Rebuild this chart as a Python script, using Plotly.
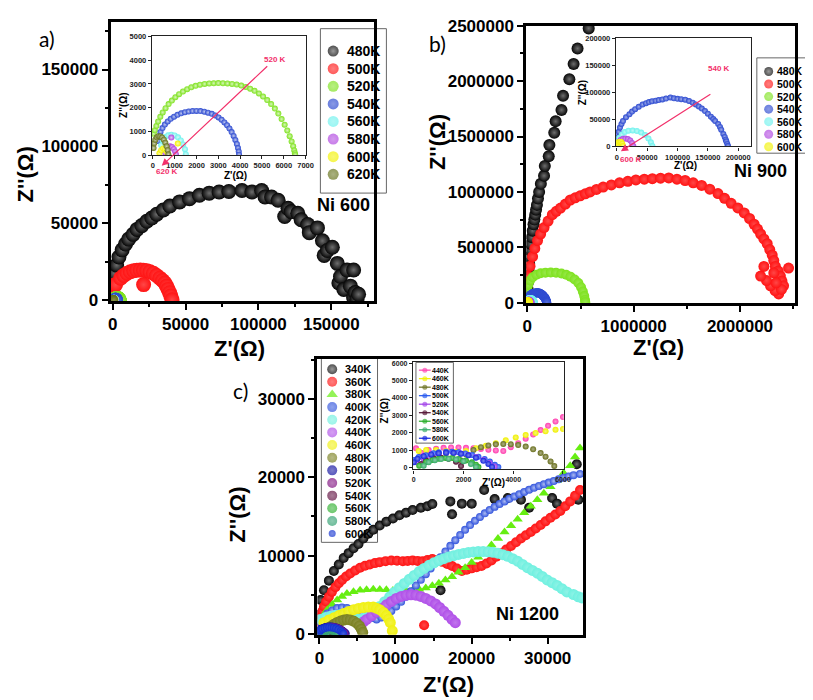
import plotly.graph_objects as go

W, H = 813, 700
FONT = "Liberation Sans"

# ================= DATA =================
# ---- panel a) Ni 600 ----
a_480 = [(300, 10000), (900, 17500), (2700, 22800), (4300, 28100), (6500, 32700), (8800, 36500),
         (11000, 39700), (14000, 42800), (16700, 46000), (20000, 48500), (23400, 51300), (26800, 53400),
         (30200, 55900), (34700, 58600), (39200, 61200), (45900, 63900), (52700, 66000), (59500, 68200),
         (66200, 69600), (73000, 70300), (79700, 70700), (88700, 71300), (95500, 70300), (102200, 71300),
         (104500, 67100), (109000, 67100), (113500, 65000), (118000, 54400), (120300, 59700), (122500, 57600),
         (127000, 56500), (129300, 52300), (133800, 49200), (134900, 43900), (140500, 47000), (143900, 38600),
         (145100, 29100), (147300, 32300), (150700, 34400), (154100, 23900), (155200, 11200), (156300, 15400),
         (158600, 7000), (160800, 19600), (163100, 9100), (165300, 19600), (165300, 1700), (166400, 4900),
         (167600, 600), (168700, 3800)]
a_500 = [(0, 9500), (2000, 10100), (5400, 14300), (7600, 16000), (9900, 17500), (12100, 18500), (14400, 19200),
         (16600, 19500), (18900, 19600), (21100, 19500), (23400, 19200), (25600, 18500), (27900, 17500),
         (30100, 16000), (32400, 14300), (34200, 12800), (35800, 11200), (37000, 9100), (38000, 7000),
         (39100, 4800), (39900, 2700), (40700, 200), (21200, 10100)]
a_520 = [(40, 900), (90, 1050), (160, 1230), (240, 1420), (340, 1620), (450, 1800), (580, 1980), (720, 2150),
         (870, 2300), (1030, 2440), (1200, 2570), (1380, 2680), (1570, 2780), (1760, 2860), (1960, 2920),
         (2160, 2970), (2370, 3000), (2580, 3020), (2790, 3030), (3000, 3035), (3210, 3030), (3420, 3020),
         (3630, 3000), (3840, 2975), (4050, 2930), (4260, 2870), (4460, 2800), (4660, 2710), (4860, 2600),
         (5050, 2470), (5240, 2320), (5420, 2150), (5590, 1960), (5750, 1750), (5900, 1520), (6040, 1280),
         (6160, 1040), (6270, 800), (6360, 580), (6430, 380), (6480, 200), (6510, 80), (6525, 10)]
a_540 = [(230, 600), (280, 800), (350, 980), (440, 1140), (550, 1290), (680, 1420), (820, 1530), (970, 1620),
         (1130, 1700), (1300, 1760), (1470, 1810), (1640, 1840), (1820, 1860), (2000, 1865), (2180, 1855),
         (2360, 1830), (2530, 1790), (2700, 1740), (2860, 1670), (3010, 1590), (3150, 1490), (3280, 1380),
         (3400, 1260), (3510, 1120), (3610, 970), (3700, 810), (3780, 640), (3850, 470), (3900, 300),
         (3935, 150), (3950, 20)]
a_560 = [(380, 420), (450, 620), (560, 760), (700, 840), (850, 860), (1000, 830), (1150, 750), (1280, 620),
         (1390, 450), (1470, 250), (1510, 40)]
a_580 = [(560, 100), (620, 230), (700, 330), (790, 370), (880, 340), (960, 260), (1020, 150), (1060, 30), (845, 740)]
a_600 = [(300, 80), (380, 210), (470, 280), (560, 250), (640, 150), (700, 30), (1140, 490)]
a_620 = [(30, 300), (60, 500), (110, 650), (180, 750), (260, 800), (340, 790), (420, 740), (500, 650),
         (570, 520), (630, 370), (680, 210), (710, 30)]

# ---- panel b) Ni 900 ----
b_480 = [(0, 30000), (1000, 80000), (2000, 123000), (4000, 180000), (6000, 240000), (10000, 300000),
         (16000, 357000), (22000, 415000), (28000, 474000), (35000, 530000), (43000, 590000), (50000, 650000),
         (58000, 708000), (66000, 750000), (74000, 795000), (82000, 840000), (90000, 883000), (100000, 940000),
         (111000, 1000000), (127000, 1073000), (157000, 1146000), (164000, 1234000), (201000, 1322000),
         (207000, 1424000), (253000, 1535000), (266000, 1637000), (321000, 1740000), (336000, 1868000),
         (395000, 2018000), (435000, 2155000), (472000, 2295000), (577000, 2476000)]
b_500 = [(3000, 180000), (9000, 240000), (25000, 330000), (49000, 415000), (70000, 490000), (96000, 561000),
         (125000, 620000), (157000, 678000), (195000, 737000), (235000, 795000), (272000, 825000), (312000, 854000),
         (358000, 890000), (404000, 927000), (450000, 947000), (497000, 965000), (545000, 983000), (590000, 1000000),
         (650000, 1022000), (713000, 1044000), (790000, 1063000), (867000, 1082000), (945000, 1096000),
         (1021000, 1108000), (1100000, 1115000), (1176000, 1120000), (1253000, 1124000), (1330000, 1126000),
         (1407000, 1115000), (1484000, 1103000), (1560000, 1082000), (1639000, 1059000), (1716000, 1025000),
         (1793000, 985000), (1855000, 942000), (1917000, 897000), (1980000, 855000), (2040000, 810000),
         (2090000, 760000), (2133000, 708000), (2165000, 665000), (2194000, 620000), (2225000, 576000),
         (2256000, 532000), (2280000, 480000), (2303000, 430000), (2318000, 380000), (2333000, 327000),
         (2360000, 285000), (2380000, 240000), (2395000, 195000), (2410000, 152000), (2364000, 79000),
         (2330000, 110000), (2287000, 152000), (2250000, 200000), (2194000, 240000), (2225000, 327000),
         (2318000, 269000), (2457000, 313000), (2390000, 120000), (2340000, 180000)]
b_520 = [(0, 120000), (8000, 160000), (25000, 200000), (50000, 230000), (85000, 252000), (125000, 265000),
         (170000, 271000), (220000, 272000), (270000, 270000), (320000, 264000), (365000, 252000), (405000, 235000),
         (445000, 210000), (480000, 178000), (505000, 140000), (522000, 100000), (535000, 60000), (542000, 25000),
         (545000, 5000)]
b_540 = [(0, 12000), (1600, 17500), (3000, 27000), (5000, 35000), (7500, 41500), (10000, 47000), (15000, 54000),
         (20600, 59500), (25000, 64500), (30000, 69000), (36000, 73500), (42300, 77500), (48000, 80000),
         (53000, 82000), (58000, 83500), (63900, 84700), (69000, 85800), (75000, 87000), (81000, 88500),
         (88300, 90600), (94000, 89000), (100000, 88000), (106000, 87500), (112700, 86500), (119000, 84000),
         (125000, 81000), (130000, 77800), (135000, 74000), (140000, 70000), (145200, 65400), (150000, 60500),
         (155000, 55000), (159000, 50500), (162000, 47000), (167000, 41400), (170000, 36000), (172000, 31000),
         (175500, 23000), (177800, 17500), (179500, 12500), (180500, 9000), (182000, 4500), (183200, 500)]
b_560 = [(1600, 9000), (4000, 16000), (8000, 22000), (13000, 26500), (19000, 29000), (26000, 29400),
         (33000, 28500), (40000, 25500), (46500, 21000), (52000, 14500), (56000, 7500), (58500, 500)]
b_580 = [(1000, 4000), (3000, 8500), (6000, 12000), (10000, 14000), (14000, 14400), (18000, 13500),
         (22000, 11000), (25000, 6500), (27000, 500)]
b_600 = [(500, 2000), (1500, 5500), (3000, 8000), (5000, 8700), (7000, 8000), (8800, 5000), (10000, 500)]

# ---- panel c) Ni 1200 : main ----
c_340 = [(50, 2500), (170, 4340), (600, 5580), (1250, 6810), (1900, 8050), (2550, 8880), (3190, 9700),
         (3840, 10320), (4490, 10940), (5140, 11480), (5780, 12180), (6430, 12800), (7080, 13300), (7930, 13840),
         (8800, 14340), (9670, 14740), (10520, 15150), (11390, 15490), (12250, 15820), (13330, 16110),
         (14200, 16320), (14840, 16600), (17210, 16930), (17430, 15280), (18720, 16640), (20020, 16640),
         (21650, 18380), (23030, 17220), (24760, 17350), (26490, 17140), (27560, 16110), (30580, 17350),
         (31230, 16640), (34030, 17140), (15920, 5580), (33820, 21680)]
c_360 = [(100, 1500), (170, 2270), (380, 2900), (600, 3510), (900, 4150), (1250, 4750), (1650, 5380),
         (2110, 5980), (2550, 6480), (2980, 6900), (3500, 7330), (4050, 7720), (4700, 8100), (5350, 8460),
         (6000, 8700), (6640, 8880), (7300, 9050), (7930, 9170), (8700, 9300), (9450, 9380), (10200, 9350),
         (10960, 9290), (11600, 9330), (12250, 9380), (12900, 9330), (13550, 9290), (14200, 9450), (14840, 9580),
         (15500, 9400), (16140, 9210), (16800, 8950), (17430, 8670), (18070, 8350), (18720, 8050), (19370, 8200),
         (20020, 8380), (20660, 8520), (21310, 8670), (21960, 9000), (22610, 9380), (23250, 9850), (23900, 10320),
         (24550, 10780), (25190, 11240), (25840, 11700), (26490, 12180), (27130, 12600), (27780, 13010),
         (28430, 13470), (29080, 13920), (29720, 14380), (30370, 14830), (31010, 15260), (31660, 15700),
         (32310, 16300), (32960, 16930), (33600, 17650), (34250, 18380), (13760, 1120)]
c_380 = [(170, 1860), (600, 2500), (1040, 3100), (1680, 3750), (2330, 4340), (2970, 4780), (3620, 5170),
         (4480, 5400), (5350, 5580), (6200, 5650), (7080, 5700), (7940, 5690), (8800, 5660), (9660, 5560),
         (10520, 5490), (11380, 5520), (12250, 5580), (13110, 5700), (13980, 5870), (14840, 6150), (15700, 6480),
         (16560, 6880), (17430, 7310), (18290, 7870), (19150, 8460), (20010, 9120), (20870, 9790), (21740, 10570),
         (22610, 11360), (23470, 12180), (24330, 13010), (25190, 13830), (26050, 14660), (26910, 15490),
         (27780, 16320), (28640, 17140), (29500, 17970), (30360, 18790), (31230, 19610), (32100, 20540),
         (32960, 21470), (33600, 22600), (34250, 23750)]
c_400 = [(170, 1450), (600, 2100), (1040, 2600), (1680, 3000), (2330, 3310), (2970, 3380), (3620, 3310),
         (4270, 3150), (4920, 2890), (5560, 2600), (6210, 2270), (6860, 2050), (7510, 1860), (8150, 2100),
         (8800, 2480), (9450, 2950), (10090, 3510), (10740, 4100), (11390, 4750), (12030, 5450), (12680, 6200),
         (13330, 6920), (13980, 7640), (14620, 8360), (15270, 9080), (15910, 9800), (16560, 10530), (17210, 11250),
         (17860, 11980), (18500, 12650), (19150, 13300), (19800, 13900), (20450, 14460), (21100, 14950),
         (21740, 15400), (22380, 15830), (23030, 16230), (23680, 16600), (24330, 16930), (24970, 17250),
         (25620, 17560), (26270, 17850), (26920, 18130), (27560, 18400), (28210, 18670), (28850, 18900),
         (29500, 19120), (30150, 19330), (30800, 19530), (31450, 19740), (32090, 19950), (32740, 20120),
         (33390, 20280), (34250, 20440)]
c_420 = [(170, 1860), (800, 2100), (1460, 2270), (2100, 2400), (2760, 2480), (3400, 2400), (4050, 2270),
         (4700, 2050), (5350, 1860), (6000, 2050), (6640, 2350), (7280, 2900), (7930, 3510), (8580, 4130),
         (9230, 4750), (9870, 5330), (10520, 5910), (11160, 6450), (11810, 6980), (12460, 7480), (13110, 7970),
         (13750, 8370), (14400, 8760), (15050, 9080), (15700, 9380), (16340, 9610), (16990, 9830), (17630, 10000),
         (18280, 10160), (18930, 10290), (19580, 10410), (20220, 10480), (20870, 10530), (21520, 10520),
         (22170, 10490), (22810, 10420), (23460, 10320), (24110, 10130), (24760, 9910), (25400, 9620),
         (26050, 9290), (26690, 8880), (27340, 8460), (27990, 8120), (28640, 7770), (29280, 7340), (29930, 6900),
         (30580, 6550), (31230, 6200), (31870, 5780), (32520, 5370), (33390, 5040), (34030, 4750), (34500, 4600)]
c_440 = [(5350, 1240), (5800, 1550), (6210, 1860), (6850, 2320), (7510, 2770), (8150, 3250), (8800, 3720),
         (9450, 4150), (10090, 4540), (10750, 4800), (11390, 4960), (12030, 5000), (12680, 4960), (13330, 4800),
         (13980, 4540), (14630, 4220), (15270, 3840), (15800, 3380), (16350, 2890), (16900, 2380), (17430, 1860),
         (17860, 1450)]
c_460 = [(600, 1450), (1250, 1800), (1900, 2070), (2550, 2350), (3190, 2600), (3850, 2870), (4490, 3100),
         (5130, 3260), (5780, 3380), (6430, 3430), (7080, 3430), (7500, 3300), (7930, 3100), (8400, 2750),
         (8800, 2350), (9100, 1900), (9320, 1450), (9580, 410)]
c_480 = [(1040, 620), (1470, 950), (1900, 1240), (2330, 1470), (2760, 1650), (3190, 1780), (3620, 1860),
         (4050, 1800), (4490, 1650), (4900, 1380), (5260, 1030), (5500, 620), (5690, 210)]

# ---- panel c) inset ----
ci_440 = [(90, 1100), (300, 850), (600, 1000), (900, 1080), (1200, 1130), (1500, 1150), (1800, 1150),
          (2100, 1130), (2400, 1100), (2700, 1060), (3000, 1020), (3300, 980), (3600, 950), (3900, 1170),
          (4200, 1400), (4500, 1650), (4800, 1900), (5100, 2150), (5400, 2400), (5700, 2650), (6000, 2900)]
ci_460 = [(200, 950), (500, 1000), (900, 1000), (1300, 950), (1700, 900), (2100, 950), (2500, 1100),
          (2900, 1250), (3300, 1400), (3700, 1570), (4100, 1730), (4500, 1870), (4900, 1980), (5300, 2080),
          (5700, 2170), (6000, 2220)]
ci_480 = [(1900, 400), (2100, 750), (2400, 1000), (2700, 1170), (3000, 1270), (3300, 1330), (3600, 1350),
          (3900, 1340), (4200, 1290), (4500, 1200), (4800, 1050), (5100, 830), (5300, 620), (5500, 350), (5650, 80)]
ci_500 = [(20, 430), (200, 600), (490, 710), (800, 820), (1010, 870), (1300, 900), (1540, 900), (1800, 870),
          (2070, 810), (2350, 720), (2600, 620), (2850, 480), (3060, 340), (3260, 150), (3400, 30)]
ci_520 = [(100, 300), (400, 500), (700, 650), (1000, 760), (1300, 820), (1600, 830), (1900, 800), (2200, 720),
          (2500, 600), (2800, 430), (3050, 250), (3250, 50)]
ci_540 = [(300, 200), (500, 400), (800, 520), (1100, 560), (1400, 500), (1700, 330), (1900, 80)]
ci_560 = [(220, 100), (500, 320), (750, 430), (1000, 500), (1280, 550), (1550, 550), (1810, 490), (2100, 400),
          (2340, 300), (2500, 160), (2600, 20)]
ci_580 = [(400, 100), (600, 300), (850, 420), (1100, 480), (1400, 500), (1700, 460), (2000, 360), (2300, 200),
          (2500, 30)]
ci_600 = [(0, 300), (150, 500), (400, 650), (700, 750), (1000, 820), (1300, 850), (1600, 840), (1900, 790),
          (2200, 700), (2500, 560), (2800, 380), (3000, 200), (3150, 30)]

# ---- tick labels ----
a_ticks = [0, 50000, 100000, 150000]
ai_xticks = [0, 1000, 2000, 3000, 4000, 5000, 6000, 7000]
ai_yticks = [0, 1000, 2000, 3000, 4000, 5000]
b_xticks = [0, 1000000, 2000000]
b_yticks = [0, 500000, 1000000, 1500000, 2000000, 2500000]
bi_ticks = [0, 50000, 100000, 150000, 200000]
c_ticks = [0, 10000, 20000, 30000]
ci_xticks = [0, 2000, 4000, 6000]
ci_yticks = [0, 1000, 2000, 3000, 4000, 5000, 6000]

a_labels = ["480K", "500K", "520K", "540K", "560K", "580K", "600K", "620K"]
b_labels = ["480K", "500K", "520K", "540K", "560K", "580K", "600K"]
c_labels = ["340K", "360K", "380K", "400K", "420K", "440K", "460K", "480K", "500K", "520K", "540K",
            "560K", "580K", "600K"]
ci_labels = ["440K", "460K", "480K", "500K", "520K", "540K", "560K", "580K", "600K"]

# ================= STYLE =================
a_colors = ["#050505", "#ff1414", "#7ee21e", "#2a48d0", "#6ff2ee", "#b045e0", "#f2f200", "#66721a"]
b_colors = ["#050505", "#ff1414", "#7ee21e", "#2a48d0", "#6ff2ee", "#b045e0", "#f2f200"]
c_colors = ["#050505", "#ff1414", "#66ee11", "#3355dd", "#70f0e0", "#b050e8", "#f0f010", "#7a8020",
            "#1010a0", "#801080", "#601040", "#30b030", "#30a070", "#1030d0"]
ci_colors = ["#ff40b0", "#f0f000", "#6a7020", "#2255ee", "#a040e8", "#501030", "#22aa22", "#33aa66", "#1122dd"]


def light(c, f=0.22):
    r, g, b = int(c[1:3], 16), int(c[3:5], 16), int(c[5:7], 16)
    if r + g + b < 100:
        f = max(f, 0.42)
    r, g, b = [int(v + (255 - v) * f) for v in (r, g, b)]
    return "#%02x%02x%02x" % (r, g, b)


fig = go.Figure()


def add(pts, color, size, ax, symbol="circle", grad=True, f=None):
    xs = [p[0] for p in pts]
    ys = [p[1] for p in pts]
    m = dict(color=color, size=size, symbol=symbol, line=dict(width=0))
    if grad:
        m["gradient"] = dict(type="radial", color=light(color) if f is None else light(color, f))
    fig.add_trace(go.Scatter(x=xs, y=ys, mode="markers", marker=m, showlegend=False,
                             xaxis="x" + ax, yaxis="y" + ax, hoverinfo="skip"))


# panel a main
a_series = [a_480, a_500, a_520, a_540, a_560, a_580, a_600, a_620]
a_sizes = [15, 15, 9, 9, 8, 8, 8, 8]
for s, c, z in zip(a_series, a_colors, a_sizes):
    add(s, c, z, "")
# panel a inset
for s, c in zip(a_series[2:], a_colors[2:]):
    add(s, c, 6, "2", f=0.7)
# panel b main
b_series = [b_480, b_500, b_520, b_540, b_560, b_580, b_600]
b_sizes = [12, 11, 10, 9, 9, 9, 9]
for s, c, z in zip(b_series, b_colors, b_sizes):
    add(s, c, z, "3")
# panel b inset
for s, c in zip(b_series[3:], b_colors[3:]):
    add(s, c, 6, "4", f=0.55)
# panel c main
c_series = [c_340, c_360, c_380, c_400, c_420, c_440, c_460, c_480, ci_500, ci_520, ci_540, ci_560, ci_580, ci_600]
c_sizes = [10, 10, 9, 8, 11, 11, 11, 11, 9, 9, 9, 9, 9, 8]
for i, (s, c, z) in enumerate(zip(c_series, c_colors, c_sizes)):
    if i == 2:
        add(s, c, z, "5", symbol="triangle-up", grad=False)
    elif i == 3:
        add(s, c, z, "5", f=0.6)
    else:
        add(s, c, z, "5")
# panel c inset
ci_series = [ci_440, ci_460, ci_480, ci_500, ci_520, ci_540, ci_560, ci_580, ci_600]
for s, c in zip(ci_series, ci_colors):
    add(s, c, 6, "6", f=0.45)


# ================= LAYOUT =================
def PX(x):
    return x / W


def PY(y):
    return 1 - y / H


def main_axis(rng, dom, ticks, anchor, minor):
    return dict(range=rng, domain=dom, anchor=anchor, showline=True, linewidth=3, linecolor="black",
                mirror=True, ticks="outside", ticklen=6, tickwidth=2, tickcolor="black",
                tickvals=ticks, tickformat="d", showgrid=False, zeroline=False,
                tickfont=dict(family=FONT, size=17, color="black", weight="bold"),
                minor=dict(ticks="outside", ticklen=3, tickwidth=1.5, tickcolor="black", dtick=minor, showgrid=False))


def inset_axis(rng, dom, ticks, anchor, fs=7.5):
    return dict(range=rng, domain=dom, anchor=anchor, showline=True, linewidth=1.3, linecolor="#222",
                mirror=True, ticks="outside", ticklen=3, tickwidth=1, tickcolor="#222",
                tickvals=ticks, tickformat="d", showgrid=False, zeroline=False,
                tickfont=dict(family=FONT, size=fs, color="#222", weight="bold"))


layout = dict(
    width=W, height=H, autosize=False, margin=dict(l=0, r=0, t=0, b=0),
    paper_bgcolor="white", plot_bgcolor="rgba(0,0,0,0)", showlegend=False,
    xaxis=main_axis([-1500, 179000], [PX(100), PX(367)], a_ticks, "y", 25000),
    yaxis=main_axis([-600, 181000], [PY(292), PY(5)], a_ticks, "x", 25000),
    xaxis2=inset_axis([-45, 7000], [PX(142), PX(298)], ai_xticks, "y2"),
    yaxis2=inset_axis([0, 5000], [PY(142), PY(20)], ai_yticks, "x2"),
    xaxis3=main_axis([-10000, 2520000], [PX(522), PX(795)], b_xticks, "y3", 500000),
    yaxis3=main_axis([-3000, 2500000], [PY(294), PY(9)], b_yticks, "x3", 250000),
    xaxis4=inset_axis([-1600, 221000], [PX(613), PX(750)], bi_ticks, "y4"),
    yaxis4=inset_axis([0, 200000], [PY(133), PY(22)], bi_ticks, "x4"),
    xaxis5=main_axis([-260, 34700], [PX(310), PX(580)], c_ticks, "y5", 5000),
    yaxis5=main_axis([-100, 35050], [PY(635), PY(352)], c_ticks, "x5", 5000),
    xaxis6=inset_axis([-30, 6030], [PX(407), PX(560)], ci_xticks, "y6", 7),
    yaxis6=inset_axis([-110, 6050], [PY(465), PY(355)], ci_yticks, "x6", 7),
    xaxis7=dict(range=[0, 1], domain=[0, 1], visible=False, anchor="y7"),
    yaxis7=dict(range=[0, 1], domain=[0, 1], visible=False, anchor="x7"),
)
fig.update_layout(**layout)

annotations = []
shapes = []


def text(x, y, s, size, angle=0, color="black", bold=True, family=FONT, anchor="center"):
    annotations.append(dict(x=PX(x), y=PY(y), xref="paper", yref="paper", text=s, showarrow=False,
                            textangle=angle, xanchor=anchor, yanchor="middle", borderpad=0,
                            font=dict(family=family, size=size, color=color,
                                      weight="bold" if bold else "normal")))


# axis titles
text(231, 341, "Z'(Ω)", 22)
text(14, 162, "Z''(Ω)", 22, angle=-90)
text(656, 340, "Z'(Ω)", 22)
text(432, 129, "Z''(Ω)", 22, angle=-90)
text(443, 686, "Z'(Ω)", 22)
text(228, 512, "Z''(Ω)", 22, angle=-90)
# inset titles
text(227, 163, "Z'(Ω)", 10)
text(113, 90, "Z''(Ω)", 10, angle=-90)
text(684, 153, "Z'(Ω)", 10)
text(579, 77, "Z''(Ω)", 10, angle=-90)
text(489, 478, "Z'(Ω)", 10)
text(378, 404, "Z''(Ω)", 10, angle=-90)
# sample names
text(336, 193, "Ni 600", 18)
text(760, 158, "Ni 900", 18)
text(523, 614, "Ni 1200", 18)
# panel letters
text(36, 22, "a)", 21, bold=False, family="Lato")
text(432, 27, "b)", 21, bold=False, family="Lato")
text(232, 384, "c)", 21, bold=False, family="Lato")

# arrows in insets
ARW = "#f2306a"
for (hx, hy, tx, ty) in [(152, 153, 259, 52), (618, 138, 709, 80)]:
    annotations.append(dict(x=PX(hx), y=PY(hy), xref="paper", yref="paper", ax=tx - hx, ay=ty - hy,
                            axref="pixel", ayref="pixel", text="", showarrow=True, arrowhead=2,
                            arrowsize=1.2, arrowwidth=1.2, arrowcolor=ARW))
text(267, 44, "520 K", 8, color=ARW)
text(157, 159, "620 K", 8, color=ARW)
text(718, 53, "540 K", 8, color=ARW)
text(628, 146, "600 K", 8, color=ARW)

# ---- hand-built legends (boxes, symbols, labels) ----
leg_x, leg_y, leg_c, leg_s, leg_sym = [], [], [], [], []


def legend(labels, colors, box, mx, y0, step, tx, fs, msize, syms=None, sizes=None, lines=False, tanchor="left"):
    shapes.append(dict(type="rect", xref="paper", yref="paper", x0=PX(box[0]), x1=PX(box[2]),
                       y0=PY(box[3]), y1=PY(box[1]), line=dict(color="#666", width=1), fillcolor="white",
                       layer="below"))
    for i, (lab, col) in enumerate(zip(labels, colors)):
        yy = y0 + step * i
        if lines:
            shapes.append(dict(type="line", xref="paper", yref="paper", x0=PX(mx - 6), x1=PX(mx + 6),
                               y0=PY(yy), y1=PY(yy), line=dict(color=col, width=1.2)))
        leg_x.append(PX(mx))
        leg_y.append(PY(yy))
        leg_c.append(col)
        leg_s.append(sizes[i] if sizes else msize)
        leg_sym.append(syms[i] if syms else "circle")
        text(tx, yy, lab, fs, anchor=tanchor)


legend(a_labels, a_colors, (313, 12, 380, 181), 326, 35, 18.1, 339, 14, 11)
legend(b_labels, b_colors, (756, 42, 811, 140), 768, 56, 12.9, 804, 10.5, 9, tanchor="right")
c_syms = ["circle"] * 14
c_syms[2] = "triangle-up"
c_lsizes = [10] * 13 + [7]
legend(c_labels, c_colors, (314, 351, 371, 540), 325, 362, 13.0, 337, 11, 10, syms=c_syms, sizes=c_lsizes)
legend(ci_labels, ci_colors, (410, 355, 448, 438), 419, 363, 8.75, 425, 7, 5, lines=True)

grads = [light(c) if s != "triangle-up" else c for c, s in zip(leg_c, leg_sym)]
fig.add_trace(go.Scatter(x=leg_x, y=leg_y, mode="markers", xaxis="x7", yaxis="y7", showlegend=False,
                         hoverinfo="skip",
                         marker=dict(color=leg_c, size=leg_s, symbol=leg_sym, line=dict(width=0),
                                     gradient=dict(type="radial", color=grads))))

fig.update_layout(annotations=annotations, shapes=shapes)
fig.write_html("out.html")
